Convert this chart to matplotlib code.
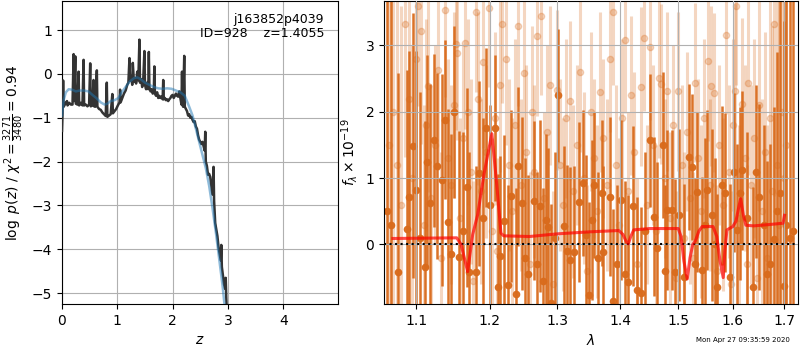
import matplotlib
matplotlib.use('Agg')
import matplotlib.pyplot as plt
from matplotlib.ticker import NullLocator, FixedLocator, FixedFormatter

# ---- left panel: log p(z) ----
z_grid = [0.00, 0.01, 0.02, 0.03, 0.06, 0.09, 0.10, 0.13, 0.16, 0.19, 0.21, 0.22, 0.24, 0.25, 0.28,
          0.30, 0.31, 0.34, 0.37, 0.39, 0.40, 0.43, 0.46, 0.49, 0.51, 0.52, 0.55, 0.57, 0.58, 0.60,
          0.63, 0.64, 0.67, 0.70, 0.73, 0.76, 0.79, 0.81, 0.82, 0.85, 0.88, 0.91, 0.92, 0.95, 0.98,
          1.01, 1.04, 1.05, 1.06, 1.09, 1.12, 1.15, 1.18, 1.20, 1.22, 1.23, 1.25, 1.27, 1.28, 1.30,
          1.32, 1.34, 1.36, 1.38, 1.40, 1.41, 1.43, 1.45, 1.47, 1.49, 1.50, 1.52, 1.54, 1.56, 1.57,
          1.58, 1.60, 1.62, 1.64, 1.66, 1.67, 1.68, 1.70, 1.72, 1.74, 1.76, 1.78, 1.80, 1.82, 1.83,
          1.84, 1.86, 1.88, 1.90, 1.92, 1.94, 1.96, 1.98, 2.00, 2.02, 2.04, 2.06, 2.08, 2.10, 2.12,
          2.14, 2.16, 2.17, 2.18, 2.19, 2.21, 2.22, 2.24, 2.26, 2.28, 2.30, 2.32, 2.34, 2.36, 2.38,
          2.40, 2.42, 2.44, 2.46, 2.48, 2.50, 2.52, 2.54, 2.56, 2.58, 2.59, 2.60, 2.62, 2.64, 2.66,
          2.68, 2.70, 2.72, 2.74, 2.75, 2.77, 2.79, 2.81, 2.83, 2.85, 2.87, 2.88, 2.89, 2.91, 2.93,
          2.95, 2.96, 2.97, 2.98]
log_pz = [-1.30, -0.90, -0.15, -0.75, -0.68, -0.62, -0.72, -0.66, -0.70, -0.70, 0.45, -0.62, 0.40, -0.68, -0.70,
          0.05, -0.72, -0.66, -0.72, 0.32, -0.72, -0.70, -0.74, -0.70, 0.24, -0.74, -0.72, -0.14, -0.74, -0.75,
          0.08, -0.75, -0.80, -0.82, -0.88, -0.92, -0.96, -0.20, -0.98, -0.95, -0.92, -0.46, -0.90, -0.85, -0.80,
          -0.72, -0.65, -0.36, -0.65, -0.55, -0.45, -0.38, -0.25, -0.20, 0.36, -0.15, -0.05, -0.25, 0.25, -0.18,
          -0.10, -0.22, 0.05, -0.15, 0.78, -0.20, -0.12, -0.30, -0.10, 0.52, -0.25, -0.35, -0.20, -0.35, 0.50,
          -0.30, -0.40, -0.35, -0.45, -0.40, 0.17, -0.45, -0.50, -0.42, -0.55, -0.50, -0.55, -0.52, -0.58, -0.14,
          -0.58, -0.55, -0.60, -0.58, -0.62, -0.58, -0.55, -0.50, -0.48, -0.55, -0.50, -0.45, -0.50, -0.52, -0.40,
          -0.55, -0.70, 0.05, -0.70, -0.75, 0.41, -0.75, -0.80, -0.85, -0.95, -0.92, -1.00, -0.98, -1.05, -1.10,
          -1.08, -1.20, -1.25, -1.40, -1.50, -1.55, -1.60, -1.55, -1.65, -1.75, -1.32, -2.00, -2.10, -2.30, -2.28,
          -2.35, -2.55, -2.75, -2.12, -2.90, -3.40, -3.55, -3.70, -3.95, -4.10, -4.25, -3.90, -4.40, -4.60, -4.80,
          -4.90, -4.65, -5.10, -5.40]

z_smooth = [0.00, 0.03, 0.07, 0.12, 0.18, 0.25, 0.32, 0.40, 0.48, 0.55, 0.62, 0.70, 0.77, 0.82, 0.88,
            0.95, 1.02, 1.08, 1.15, 1.22, 1.30, 1.36, 1.42, 1.50, 1.58, 1.66, 1.74, 1.82, 1.90, 1.98,
            2.06, 2.14, 2.22, 2.30, 2.36, 2.42, 2.48, 2.54, 2.60, 2.66, 2.72, 2.78, 2.84, 2.90, 2.95]
log_pz_smooth = [-0.95, -0.60, -0.42, -0.35, -0.36, -0.40, -0.38, -0.38, -0.40, -0.48, -0.55, -0.65, -0.70, -0.68, -0.62,
                 -0.60, -0.55, -0.42, -0.30, -0.18, -0.10, -0.08, -0.12, -0.20, -0.25, -0.30, -0.33, -0.34, -0.33, -0.34,
                 -0.38, -0.42, -0.50, -0.75, -0.95, -1.25, -1.55, -1.85, -2.15, -2.55, -3.05, -3.60, -4.20, -4.80, -5.40]

# ---- right panel: spectrum ----
wave_a = [1.062, 1.068, 1.077, 1.088, 1.091, 1.096, 1.100, 1.105, 1.111, 1.114, 1.118, 1.123, 1.127, 1.134, 1.138,
          1.142, 1.146, 1.150, 1.157, 1.162, 1.168, 1.171, 1.180, 1.185, 1.190, 1.195, 1.200, 1.207, 1.212, 1.215,
          1.220, 1.226, 1.230, 1.238, 1.241, 1.246, 1.251, 1.256, 1.265, 1.269, 1.273, 1.278, 1.282, 1.286, 1.290,
          1.296, 1.301, 1.310, 1.315, 1.320, 1.326, 1.333, 1.340, 1.345, 1.350, 1.354, 1.358, 1.364, 1.370, 1.372,
          1.384, 1.388, 1.395, 1.402, 1.408, 1.413, 1.421, 1.428, 1.435, 1.442, 1.451, 1.457, 1.463, 1.473, 1.477,
          1.481, 1.489, 1.495, 1.501, 1.510, 1.519, 1.525, 1.530, 1.534, 1.543, 1.548, 1.552, 1.561, 1.566, 1.571,
          1.580, 1.586, 1.595, 1.603, 1.608, 1.614, 1.617, 1.627, 1.638, 1.645, 1.651, 1.660, 1.666, 1.672, 1.679,
          1.686, 1.692, 1.699, 1.705, 1.712, 1.719]
flux_a = [0.50, 0.30, -0.41, 0.23, 0.71, 1.49, 0.82, 0.10, -0.34, 1.25, 0.62, 1.57, 1.18, 0.97, 1.88,
          0.34, -0.14, 2.00, -0.19, 0.20, 0.86, -0.41, -0.41, 1.07, 0.40, 1.76, 0.60, 1.76, -0.64, -0.17,
          0.35, -0.61, 0.73, -0.75, 1.18, 0.62, -0.20, -0.45, 0.66, -0.30, 0.58, -0.55, 0.37, 0.26, -0.89,
          0.10, 2.25, 0.28, -0.10, -0.23, -0.11, 0.64, 0.92, 0.15, -0.76, 0.37, 0.89, -0.20, 0.78, -0.11,
          0.72, -0.86, -0.30, 0.67, -0.45, -0.56, 0.58, -0.69, -0.73, 0.20, 1.57, 0.42, -0.06, 1.50, -0.40,
          0.52, 0.52, -0.41, 0.44, -0.49, 1.32, 1.17, -0.30, 0.79, -0.39, 0.30, 0.82, 0.44, 0.00, -0.64,
          0.89, 0.78, -0.49, 1.09, 0.22, 0.77, 1.12, 0.40, -0.64, 1.10, 0.72, 0.30, -0.44, -0.29, 0.08,
          0.50, 0.78, -0.63, 0.30, 0.10, 0.20]
err_a = [9.0, 9.0, 3.0, 2.4, 2.2, 2.0, 2.1, 2.2, 2.2, 1.6, 1.8, 1.3, 1.4, 1.6, 1.2,
         1.7, 1.8, 1.3, 1.9, 1.5, 1.5, 1.8, 1.6, 1.4, 1.5, 1.2, 1.5, 1.1, 1.7, 1.5,
         1.3, 1.5, 1.3, 1.6, 1.2, 1.3, 1.5, 1.5, 1.2, 1.4, 1.3, 1.4, 1.3, 1.2, 1.5,
         1.3, 1.0, 1.2, 1.3, 1.4, 1.3, 1.2, 1.1, 1.2, 1.4, 1.2, 1.1, 1.3, 1.1, 1.3,
         1.2, 1.4, 1.2, 1.2, 1.4, 1.3, 1.2, 1.4, 1.3, 1.2, 1.0, 1.2, 1.3, 1.1, 1.3,
         1.2, 1.2, 1.4, 1.3, 1.4, 1.1, 1.1, 1.3, 1.2, 1.4, 1.3, 1.2, 1.3, 1.3, 1.4,
         1.2, 1.2, 1.4, 1.2, 1.3, 1.3, 1.2, 1.3, 1.5, 1.3, 1.4, 1.5, 1.7, 1.8, 2.0,
         2.4, 3.0, 4.0, 9.0, 9.0, 9.0]

wave_b = [1.065, 1.070, 1.075, 1.080, 1.085, 1.090, 1.095, 1.100, 1.102, 1.106, 1.110, 1.113, 1.116, 1.120, 1.125,
          1.129, 1.133, 1.138, 1.142, 1.146, 1.150, 1.153, 1.155, 1.159, 1.162, 1.166, 1.170, 1.174, 1.177, 1.180,
          1.184, 1.188, 1.191, 1.195, 1.199, 1.203, 1.207, 1.211, 1.215, 1.218, 1.223, 1.227, 1.232, 1.236, 1.241,
          1.245, 1.249, 1.253, 1.258, 1.262, 1.265, 1.269, 1.275, 1.280, 1.284, 1.289, 1.294, 1.299, 1.304, 1.309,
          1.314, 1.320, 1.325, 1.330, 1.336, 1.342, 1.347, 1.352, 1.357, 1.362, 1.367, 1.372, 1.378, 1.383, 1.389,
          1.394, 1.399, 1.404, 1.409, 1.414, 1.419, 1.424, 1.429, 1.435, 1.440, 1.445, 1.450, 1.456, 1.461, 1.466,
          1.470, 1.476, 1.480, 1.486, 1.491, 1.496, 1.500, 1.506, 1.511, 1.516, 1.521, 1.527, 1.530, 1.536, 1.541,
          1.547, 1.553, 1.558, 1.560, 1.565, 1.570, 1.575, 1.581, 1.587, 1.592, 1.597, 1.601, 1.605, 1.606, 1.611,
          1.618, 1.623, 1.628, 1.630, 1.635, 1.641, 1.646, 1.651, 1.657, 1.662, 1.667, 1.672, 1.676, 1.680, 1.685,
          1.690, 1.695, 1.700, 1.705]
flux_b = [1.50, 2.00, 1.20, 0.60, 3.32, 2.20, 1.00, 2.79, 3.59, 3.22, 0.30, 1.80, 2.39, 0.70, 1.50,
          2.63, -0.20, 3.53, 1.30, 0.90, 2.10, 3.02, 2.88, 0.40, 1.60, 3.04, 2.00, 1.10, -0.55, 3.50,
          2.20, 0.80, 2.75, 1.40, 3.57, 0.20, 1.90, -0.10, 2.40, 3.33, 2.80, 1.20, 0.50, 1.80, 3.29,
          0.90, 2.59, 1.40, -0.30, 2.00, 1.10, 3.14, 3.45, 0.70, 1.70, 2.40, -0.60, 2.33, 1.20, 0.60,
          1.90, 2.17, 0.80, 1.50, 2.60, 1.00, -0.40, 2.00, 1.30, 0.50, 2.30, 1.60, 0.90, 2.80, 3.50,
          1.20, 0.30, 1.90, 3.08, 0.80, 2.25, 1.40, -0.30, 2.38, 3.11, 0.60, 2.98, 1.50, 0.20, 2.51,
          2.42, 1.00, 2.31, 0.40, 1.80, -0.50, 2.31, 1.20, 0.10, 1.70, 0.70, -0.20, 2.44, 1.30, 0.50,
          1.90, 2.76, 0.90, 2.39, 2.29, -0.40, 1.50, 0.60, 3.16, 1.10, -0.60, 1.80, 2.32, 3.60, 0.40,
          2.12, 1.30, -0.30, 2.44, 0.90, 1.60, -0.50, 2.10, 0.50, 1.40, -0.20, 1.90, 0.80, 3.33, 1.20,
          0.30, 2.00, 1.00, 1.50]
err_b = [9.0, 9.0, 3.5, 3.0, 2.0, 2.2, 2.0, 1.8, 1.5, 1.7, 1.8, 1.6, 1.6, 1.7, 1.5,
         1.5, 1.6, 1.3, 1.5, 1.5, 1.4, 1.3, 1.3, 1.5, 1.4, 1.3, 1.4, 1.4, 1.5, 1.2,
         1.3, 1.4, 1.3, 1.3, 1.2, 1.4, 1.3, 1.4, 1.3, 1.2, 1.3, 1.3, 1.4, 1.3, 1.2,
         1.3, 1.3, 1.3, 1.4, 1.3, 1.3, 1.2, 1.2, 1.3, 1.3, 1.2, 1.4, 1.2, 1.3, 1.3,
         1.2, 1.2, 1.3, 1.2, 1.2, 1.3, 1.3, 1.2, 1.2, 1.3, 1.2, 1.2, 1.3, 1.1, 1.1,
         1.2, 1.3, 1.2, 1.1, 1.2, 1.2, 1.2, 1.3, 1.2, 1.1, 1.2, 1.1, 1.2, 1.3, 1.2,
         1.2, 1.2, 1.2, 1.3, 1.2, 1.3, 1.2, 1.2, 1.3, 1.2, 1.3, 1.3, 1.2, 1.2, 1.3,
         1.2, 1.2, 1.3, 1.2, 1.2, 1.3, 1.2, 1.3, 1.2, 1.3, 1.4, 1.3, 1.3, 1.2, 1.4,
         1.3, 1.4, 1.5, 1.4, 1.5, 1.5, 1.6, 1.6, 1.7, 1.8, 2.0, 2.2, 2.5, 2.6, 3.0,
         3.5, 4.5, 9.0, 9.0]

wave_model = [1.070, 1.154, 1.160, 1.169, 1.176, 1.183, 1.192, 1.203, 1.210, 1.216, 1.220, 1.258, 1.300, 1.350, 1.398,
              1.405, 1.410, 1.414, 1.418, 1.423, 1.450, 1.500, 1.505, 1.510, 1.516, 1.521, 1.526, 1.531, 1.537, 1.543,
              1.563, 1.570, 1.576, 1.582, 1.585, 1.589, 1.600, 1.606, 1.611, 1.615, 1.620, 1.625, 1.640, 1.670, 1.698,
              1.701]
flux_model = [0.09, 0.10, 0.00, -0.41, 0.15, 0.45, 1.07, 1.67, 0.90, 0.17, 0.13, 0.12, 0.16, 0.19, 0.21,
              0.15, 0.05, 0.01, 0.12, 0.22, 0.24, 0.24, 0.12, -0.25, -0.52, -0.20, 0.00, 0.06, 0.20, 0.27,
              0.27, 0.12, -0.25, -0.50, -0.10, 0.22, 0.27, 0.35, 0.55, 0.69, 0.45, 0.29, 0.28, 0.30, 0.32,
              0.44]

z_ticks = [0, 1, 2, 3, 4]
lam_ticks = [1.1, 1.2, 1.3, 1.4, 1.5, 1.6, 1.7]
lam_labels = ['1.1', '1.2', '1.3', '1.4', '1.5', '1.6', '1.7']

fig = plt.figure(figsize=(8, 3.5), dpi=100)

# p(z) panel
ax1 = fig.add_axes([0.0775, 0.131, 0.345, 0.866])
ax1.plot(z_grid, log_pz, color='0.2', lw=1.8, zorder=3)
ax1.plot(z_smooth, log_pz_smooth, color='#1f77b4', lw=1.8, alpha=0.5, zorder=4)
ax1.set_xlim(0, 4.99)
ax1.set_ylim(-5.25, 1.66)
ax1.set_xticks(z_ticks)
ax1.grid()
ax1.set_xlabel('$z$')
ax1.set_ylabel(r'$\log\ p(z)$ / $\chi^2=\frac{3271}{3480}=0.94$')
ax1.text(0.95, 0.96, 'j163852p4039\nID=928    z=1.4055', transform=ax1.transAxes,
         ha='right', va='top', fontsize=9, linespacing=1.05)

# spectrum panel
ax2 = fig.add_axes([0.48, 0.131, 0.5175, 0.866])
ax2.set_axisbelow(False)
ax2.errorbar(wave_b, flux_b, yerr=err_b, fmt='o', color='#d96b1c', ms=4.5,
             elinewidth=2.2, capsize=0, alpha=0.27, zorder=1)
ax2.errorbar(wave_a, flux_a, yerr=err_a, fmt='o', color='#d96b1c', ms=4.5,
             elinewidth=1.8, capsize=0, alpha=0.95, zorder=1.5)
ax2.axhline(0, color='k', ls=':', lw=1.5, zorder=5)
ax2.plot(wave_model, flux_model, color='red', lw=2.2, alpha=0.7, zorder=6)
ax2.set_xscale('log')
ax2.xaxis.set_major_locator(FixedLocator(lam_ticks))
ax2.xaxis.set_major_formatter(FixedFormatter(lam_labels))
ax2.xaxis.set_minor_locator(NullLocator())
ax2.set_xlim(1.0588, 1.7284)
ax2.set_ylim(-0.9, 3.67)
ax2.set_yticks([0, 1, 2, 3])
ax2.grid()
ax2.set_xlabel(r'$\lambda$')
ax2.set_ylabel(r'$f_\lambda\times10^{-19}$')

fig.text(0.9875, 0.029, 'Mon Apr 27 09:35:59 2020', ha='right', va='center', fontsize=5)

fig.savefig('out.png', dpi=100)
